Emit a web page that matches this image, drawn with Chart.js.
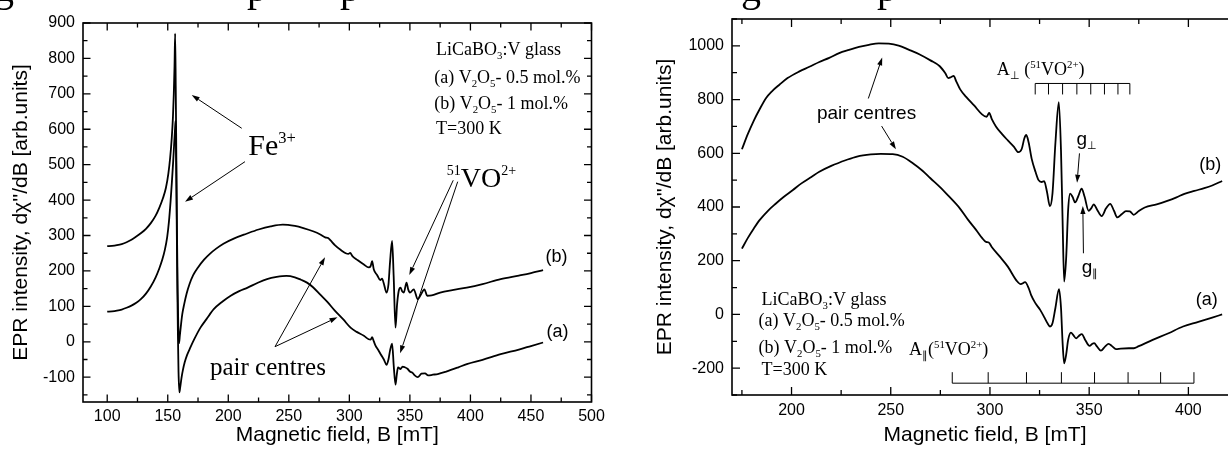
<!DOCTYPE html>
<html>
<head>
<meta charset="utf-8">
<script src="https://cdn.jsdelivr.net/npm/chart.js@4.4.1/dist/chart.umd.min.js"></script>
<style>
  html, body { margin: 0; padding: 0; background: #fff; overflow: hidden; width: 1228px; height: 456px; }
  .panel { position: absolute; top: 0; height: 456px; }
  #wide { left: 0; width: 610px; }
  #narrow { left: 610px; width: 640px; }
  #caption { position: absolute; left: 0; top: 0; pointer-events: none; }
</style>
</head>
<body>
<div class="panel" id="wide"><canvas id="wideCanvas" width="610" height="456"></canvas></div>
<div class="panel" id="narrow"><canvas id="narrowCanvas" width="640" height="456"></canvas></div>
<canvas id="caption" width="1228" height="20"></canvas>
<script>
// ---------- Wide sweep (100-460 mT): (a) 0.5 mol.% and (b) 1 mol.% V2O5 ----------
const fieldWideA = [100,104,108,112,116,120,124,128,132,136,140,143,145.5,147.5,149.5,151,152.3,153.5,154.5,155.4,156,156.5,156.9,157.4,157.9,158.4,158.9,159.6,160.3,161.3,162.5,164,166,168.7,172,177,182,188,195,202,209,216,224,232,240,248,255,260,265,270,276,282,288,295,301,306,312,316,317.6,318.8,320.2,321.6,324,326,328.5,330.7,332.3,333.6,335.3,336.7,338.1,339.2,340.2,342.2,344,345.8,348,350,352,354,356.5,359.5,362.5,365,369,373,380,390,397,410,425,440,450,460];
const eprWideA   = [85,86,88,91,96,102,110,121,136,156,182,207,232,258,295,340,395,455,510,565,600,624,520,340,160,20,-85,-143,-128,-103,-80,-58,-37,-16,8,40,64,92,113,130,143,153,166,177,183,186,182,175,167,154,133,112,88,63,40,28,17,7,6,13,1,-11,-24,-36,-50,-65,-50,-25,-5,-70,-121,-92,-72,-77,-70,-72,-76,-84,-87,-95,-100,-90,-89,-95,-93,-91,-84,-72,-63,-51,-35,-22,-12,-2];

const fieldWideB = [100,104,108,112,116,120,124,128,132,136,140,143,146,148.5,150.5,152,153.3,154.3,155,155.6,156.1,156.6,157.1,157.6,158.2,158.8,159.3,160,161,162,163.5,165.5,168,171,175,180,185,190,196,205,215,225,235,245,255,262,270,276,280,282.5,284.5,288,293,297,299.2,300.7,302.5,307,312,316,317.6,318.8,320.2,323,325.5,327,328.5,330.7,332.3,333.6,335.3,336.6,338.1,339.4,340.8,342.2,343.6,345,347.2,348.6,350,353.2,356.5,359,362,364.3,368,375,385,397,410,425,440,450,460];
const eprWideB   = [270,271,273,276,281,288,297,307,319,335,356,378,405,435,475,520,575,635,700,780,870,720,520,320,140,30,-4,18,50,78,105,135,163,188,210,232,249,263,277,292,305,317,326,331,327,321,312,303,295,293,286,273,259,250,248,251,242,230,218,210,214,228,204,188,174,178,164,139,162,225,285,185,40,105,144,153,143,139,167,148,139,148,120,133,148,130,131,139,146,153,163,177,187,194,202];

const wideFieldTicks = [100,150,200,250,300,350,400,450,500];
const wideIntensityTicks = [-100,0,100,200,300,400,500,600,700,800,900];

// ---------- Narrow sweep (175-417 mT) ----------
const fieldNarrowA = [175,178,181,184,188,192,196,200.7,205,210,214,220,227.6,233,240,245,251,256,261.3,266,270,274.7,279,284.8,289,293,296,298,299.4,301,305,309,313.5,315.5,317.7,319.5,320.7,322.8,325.3,327.5,329,330.3,331.5,333,334.8,335.8,336.6,337.4,338.4,339.4,340.8,342.1,343.4,344.8,346.3,348,350.2,351.5,352.5,354,355.9,358,359.8,361.5,363.5,366,370,372.5,375,382,390,397.3,405,412,417];
const eprNarrowA   = [245,285,320,352,385,412,437,463,488,512,531,553,575,588,596,598,597,587,562,535,507,475,442,395,352,315,285,270,268,250,215,178,125,113,120,98,73,43,17,-12,-33,-45,-33,25,94,25,-105,-182,-150,-95,-68,-78,-89,-80,-73,-95,-117,-110,-107,-120,-135,-120,-110,-118,-129,-127,-126,-126,-118,-95,-70,-45,-28,-12,0];

const fieldNarrowB = [175,178,181,184,187.2,190,194,198,204,209,214,219,224,229,234,239,244,249,254,259,264.6,270,274.7,277.5,279,280.5,281.7,283,285,288,292,296,298.3,299.6,301,303,306,309,312,314.3,316,317.3,318.3,319.5,321,323,324.5,326,327.3,328.7,330.2,331.5,333,334.7,335.8,336.6,337.4,338.4,339.4,340.4,341.6,342.9,344.5,346.2,347.7,349.7,351,352.3,354,356.3,358.5,360.6,362.5,364.2,366.5,368.5,370.5,372.4,375,378,384,389,394,398,403,408,412,417];
const eprNarrowB   = [615,672,722,765,806,830,856,880,905,922,940,955,973,985,996,1004,1009,1008,1001,986,968,946,924,898,880,884,888,868,838,810,778,745,736,750,726,700,672,648,625,604,616,655,668,640,580,530,500,493,496,458,403,450,640,790,610,350,122,210,390,450,438,417,440,468,438,386,395,410,390,366,395,412,386,361,374,385,384,371,385,398,410,422,436,449,460,470,480,497];

const narrowFieldTicks = [200,250,300,350,400];
const narrowIntensityTicks = [-200,0,200,400,600,800,1000];

// hyperfine line positions of 51VO2+ (mT)
const perpHyperfine = [322.8,329.5,336.6,343.8,350.8,357.7,364.5,370.5];
const parHyperfine  = [281,299.1,318.4,336,352.7,369.6,386,402.8];

// ---------- drawing helpers ----------
const INK = '#000';
const SANS = "'Liberation Sans', Arial, sans-serif";
const SERIF = "'Liberation Serif', 'Times New Roman', serif";

function drawRich(ctx, runs, x, y, family, size, align, script) {
  const sc = script || 0.6;
  const parts = runs.map(([t, kind]) => {
    const s = kind ? size * sc : size;
    const dy = kind === 'sub' ? size * 0.22 : kind === 'sup' ? -size * 0.4 : 0;
    ctx.font = s + 'px ' + family;
    return { t, s, dy, w: ctx.measureText(t).width };
  });
  const total = parts.reduce((acc, p) => acc + p.w, 0);
  let cx = align === 'center' ? x - total / 2 : align === 'right' ? x - total : x;
  ctx.textAlign = 'left';
  for (const p of parts) {
    ctx.font = p.s + 'px ' + family;
    ctx.fillText(p.t, cx, y + p.dy);
    cx += p.w;
  }
}

function arrow(ctx, x0, y0, x1, y1) {
  const head = 8, half = 2.6;
  const ang = Math.atan2(y1 - y0, x1 - x0);
  const bx = x1 - head * Math.cos(ang), by = y1 - head * Math.sin(ang);
  ctx.beginPath();
  ctx.moveTo(x0, y0);
  ctx.lineTo(bx, by);
  ctx.stroke();
  ctx.beginPath();
  ctx.moveTo(x1, y1);
  ctx.lineTo(bx + half * Math.sin(ang), by - half * Math.cos(ang));
  ctx.lineTo(bx - half * Math.sin(ang), by + half * Math.cos(ang));
  ctx.closePath();
  ctx.fill();
}

function onStep(v, step) {
  const r = v / step;
  return Math.abs(r - Math.round(r)) < 1e-6;
}

// frame, inward ticks on all sides, labels, arrows and hyperfine combs
function decorations(spec) {
  return {
    id: 'decor_' + spec.name,
    afterDatasetsDraw(chart) {
      const { ctx, chartArea: a } = chart;
      const sx = chart.scales.x, sy = chart.scales.y;
      const X = v => sx.getPixelForValue(v);
      const Y = v => sy.getPixelForValue(v);
      ctx.save();
      ctx.strokeStyle = INK;
      ctx.fillStyle = INK;

      ctx.lineWidth = 1.6;
      ctx.strokeRect(a.left, a.top, a.right - a.left, a.bottom - a.top);

      ctx.lineWidth = 1.3;
      ctx.beginPath();
      for (let v = Math.ceil(sx.min / spec.xMinor) * spec.xMinor; v <= sx.max + 1e-9; v += spec.xMinor) {
        const len = onStep(v, spec.xMajor) ? spec.majorLen : spec.minorLen;
        const p = X(v);
        ctx.moveTo(p, a.bottom); ctx.lineTo(p, a.bottom - len);
        ctx.moveTo(p, a.top); ctx.lineTo(p, a.top + len);
      }
      for (let v = Math.ceil(sy.min / spec.yMinor) * spec.yMinor; v <= sy.max + 1e-9; v += spec.yMinor) {
        const len = onStep(v, spec.yMajor) ? spec.majorLen : spec.minorLen;
        const p = Y(v);
        ctx.moveTo(a.left, p); ctx.lineTo(a.left + len, p);
        ctx.moveTo(a.right, p); ctx.lineTo(a.right - len, p);
      }
      ctx.stroke();

      ctx.lineWidth = 1;
      for (const c of spec.combs || []) {
        const yb = Y(c.level);
        ctx.beginPath();
        ctx.moveTo(X(c.at[0]), yb);
        ctx.lineTo(X(c.at[c.at.length - 1]), yb);
        for (const v of c.at) {
          ctx.moveTo(X(v), yb);
          ctx.lineTo(X(v), yb + c.dir * c.len);
        }
        ctx.stroke();
      }

      ctx.lineWidth = 1;
      for (const r of spec.arrows || []) {
        arrow(ctx, X(r[0]), Y(r[1]), X(r[2]), Y(r[3]));
      }

      for (const t of spec.texts || []) {
        ctx.textBaseline = t.baseline || 'alphabetic';
        drawRich(ctx, t.runs, X(t.x), Y(t.y), t.family, t.size, t.align || 'left', t.script);
      }
      ctx.restore();
    }
  };
}

function buildChart(canvasId, cfg) {
  const datasets = cfg.series.map(s => ({
    data: s.x.map((x, i) => ({ x, y: s.y[i] })),
    borderColor: INK,
    borderWidth: 1.8,
    pointRadius: 0,
    fill: false,
    cubicInterpolationMode: 'monotone'
  }));
  return new Chart(document.getElementById(canvasId), {
    type: 'line',
    data: { datasets },
    options: {
      responsive: false,
      animation: false,
      devicePixelRatio: 1,
      layout: { padding: cfg.padding },
      plugins: { legend: { display: false }, tooltip: { enabled: false } },
      scales: {
        x: {
          type: 'linear', min: cfg.xRange[0], max: cfg.xRange[1],
          afterBuildTicks: s => { s.ticks = cfg.xTicks.map(v => ({ value: v })); },
          afterFit: s => { s.height = cfg.xAxisHeight; },
          grid: { display: false, drawTicks: false },
          border: { display: false },
          ticks: { autoSkip: false, maxRotation: 0, padding: cfg.xTickPad, color: INK,
                   font: { family: SANS, size: 16 }, callback: v => String(v) },
          title: { display: true, text: 'Magnetic field, B [mT]', color: INK,
                   font: { family: SANS, size: 21 }, padding: { top: 0, bottom: cfg.xTitlePad } }
        },
        y: {
          type: 'linear', min: cfg.yRange[0], max: cfg.yRange[1],
          afterBuildTicks: s => { s.ticks = cfg.yTicks.map(v => ({ value: v })); },
          afterFit: s => { s.width = cfg.yAxisWidth; },
          grid: { display: false, drawTicks: false },
          border: { display: false },
          ticks: { autoSkip: false, padding: cfg.yTickPad, color: INK,
                   font: { family: SANS, size: 16 }, callback: v => String(v) },
          title: { display: true, text: "EPR intensity, d\u03C7''/dB [arb.units]", color: INK,
                   font: { family: SANS, size: 21 }, padding: { top: cfg.yTitlePad, bottom: 0 } }
        }
      }
    },
    plugins: [decorations(cfg.decor)]
  });
}

const glassNote = (x, y0, y1, y2, y3) => [
  { x: x, y: y0, family: SERIF, size: 18, runs: [['LiCaBO'], ['3', 'sub'], [':V glass']] },
  { x: x - 1.5, y: y1, family: SERIF, size: 18, runs: [['(a) V'], ['2', 'sub'], ['O'], ['5', 'sub'], ['- 0.5 mol.%']] },
  { x: x - 1.5, y: y2, family: SERIF, size: 18, runs: [['(b) V'], ['2', 'sub'], ['O'], ['5', 'sub'], ['- 1 mol.%']] },
  { x: x, y: y3, family: SERIF, size: 18, runs: [['T=300 K']] }
];

buildChart('wideCanvas', {
  series: [{ x: fieldWideA, y: eprWideA }, { x: fieldWideB, y: eprWideB }],
  xRange: [80, 500], yRange: [-170, 900],
  xTicks: wideFieldTicks, yTicks: wideIntensityTicks,
  padding: { top: 23, right: 18.5, bottom: 0, left: 0 },
  xAxisHeight: 54, yAxisWidth: 83,
  xTickPad: 5, yTickPad: 8, xTitlePad: 8, yTitlePad: 8.7,
  decor: {
    name: 'wide', xMinor: 25, xMajor: 50, yMinor: 50, yMajor: 100, majorLen: 7.5, minorLen: 4.5,
    arrows: [
      [211.1, 602.8, 169.8, 696.8],
      [213.8, 508.5, 164.3, 395.5],
      [385.8, 456, 349.5, 188.6],
      [389.5, 452, 341.9, -32.5],
      [238.6, -13.8, 279.9, 238.6],
      [238.6, -13.8, 290.2, 69.2]
    ],
    texts: [
      ...glassNote(371.6, 809, 731.5, 656.4, 585.8),
      { x: 216.5, y: 527.4, family: SERIF, size: 30, script: 0.55, runs: [['Fe'], ['3+', 'sup']] },
      { x: 380.4, y: 437.9, family: SERIF, size: 28, script: 0.5, runs: [['51', 'sup'], ['VO'], ['2+', 'sup']] },
      { x: 184.9, y: -94, family: SERIF, size: 25, runs: [['pair centres']] },
      { x: 471, y: 240, family: SANS, size: 18, align: 'center', baseline: 'middle', runs: [['(b)']] },
      { x: 472, y: 28.5, family: SANS, size: 18, align: 'center', baseline: 'middle', runs: [['(a)']] }
    ]
  }
});

buildChart('narrowCanvas', {
  series: [{ x: fieldNarrowA, y: eprNarrowA }, { x: fieldNarrowB, y: eprNarrowB }],
  xRange: [170, 425], yRange: [-300, 1100],
  xTicks: narrowFieldTicks, yTicks: narrowIntensityTicks,
  padding: { top: 19, right: 12, bottom: 0, left: 0 },
  xAxisHeight: 61, yAxisWidth: 122,
  xTickPad: 6, yTickPad: 8, xTitlePad: 8, yTitlePad: 42.4,
  decor: {
    name: 'narrow', xMinor: 25, xMajor: 50, yMinor: 100, yMajor: 200, majorLen: 8, minorLen: 5,
    combs: [
      { at: perpHyperfine, level: 860, dir: 1, len: 11 },
      { at: parHyperfine, level: -256, dir: -1, len: 11 }
    ],
    arrows: [
      [238.7, 804, 245.7, 957],
      [245.4, 701.3, 252.6, 614.6],
      [345.1, 599.7, 343.9, 490.3],
      [347.1, 227.7, 346.8, 403.6]
    ],
    texts: [
      ...glassNote(184.9, 35, -42.8, -144, -225),
      { x: 237.8, y: 748.5, family: SANS, size: 19, align: 'center', baseline: 'middle', runs: [['pair centres']] },
      { x: 303.4, y: 891, family: SERIF, size: 18, script: 0.6, runs: [['A'], ['\u22A5', 'sub'], [' ('], ['51', 'sup'], ['VO'], ['2+', 'sup'], [')']] },
      { x: 259.2, y: -150.7, family: SERIF, size: 18, script: 0.6, runs: [['A'], ['\u2225', 'sub'], ['('], ['51', 'sup'], ['VO'], ['2+', 'sup'], [')']] },
      { x: 343.6, y: 630.6, family: SANS, size: 19, script: 0.6, runs: [['g'], ['\u22A5', 'sub']] },
      { x: 346.2, y: 155.5, family: SANS, size: 19, script: 0.6, runs: [['g'], ['\u2225', 'sub']] },
      { x: 411, y: 556, family: SANS, size: 18, align: 'center', baseline: 'middle', runs: [['(b)']] },
      { x: 409.2, y: 54, family: SANS, size: 18, align: 'center', baseline: 'middle', runs: [['(a)']] }
    ]
  }
});

// descenders of the caption line that runs above the figures
(function () {
  const ctx = document.getElementById('caption').getContext('2d');
  ctx.fillStyle = INK;
  ctx.font = "40px " + SERIF;
  ctx.textBaseline = 'alphabetic';
  [['g', -6], ['p', 247], ['p', 340], ['g', 741], ['p', 877]].forEach(([ch, x]) => ctx.fillText(ch, x, 1));
})();
</script>
</body>
</html>
